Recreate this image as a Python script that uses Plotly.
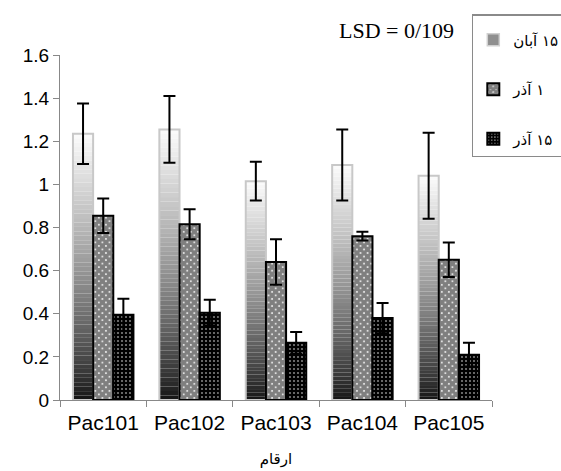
import plotly.graph_objects as go

categories = ["Pac101", "Pac102", "Pac103", "Pac104", "Pac105"]
series_names = ["\u202B۱۵ آبان\u202C", "\u202B۱ آذر\u202C", "\u202B۱۵ آذر\u202C"]
aban15 = [1.235, 1.255, 1.015, 1.09, 1.04]
aban15_err = [0.14, 0.155, 0.09, 0.165, 0.2]
azar1 = [0.855, 0.815, 0.64, 0.76, 0.65]
azar1_err = [0.08, 0.07, 0.105, 0.02, 0.08]
azar15 = [0.395, 0.405, 0.265, 0.38, 0.21]
azar15_err = [0.075, 0.06, 0.05, 0.07, 0.055]
y_ticks = [0, 0.2, 0.4, 0.6, 0.8, 1.0, 1.2, 1.4, 1.6]
y_tick_text = ["0", "0.2", "0.4", "0.6", "0.8", "1", "1.2", "1.4", "1.6"]

fig = go.Figure()

# gradient bars (white top -> black bottom) built from stacked slices
N = 60
for i in range(N):
    t = (i + 0.5) / N  # fraction from bottom
    L = int(round(18 + 234 * (t ** 0.8)))
    col = f"rgb({L},{L},{L})"
    fig.add_trace(go.Bar(
        x=categories,
        y=[v / N for v in aban15],
        base=[v * i / N for v in aban15],
        marker=dict(color=col, line=dict(width=0)),
        offsetgroup="s1", legendgroup="s1", showlegend=False,
        hoverinfo="skip",
    ))
# outline + error bars
fig.add_trace(go.Bar(
    x=categories, y=aban15, name=series_names[0],
    offsetgroup="s1", legendgroup="s1", showlegend=False,
    marker=dict(color="rgba(0,0,0,0)", line=dict(color="#c8c8c8", width=2)),
    error_y=dict(type="data", array=aban15_err, color="black", thickness=2, width=6),
))
# legend entry for gradient series
fig.add_trace(go.Bar(
    x=[None], y=[None], name=series_names[0], legendgroup="s1",
    marker=dict(color="#8f8f8f", line=dict(color="#d0d0d0", width=1.5)),
))

fig.add_trace(go.Bar(
    x=categories, y=azar1, name=series_names[1],
    offsetgroup="s2", legendgroup="s2",
    marker=dict(color="white", line=dict(color="black", width=2),
                pattern=dict(shape="x", fgcolor="black", bgcolor="white",
                             size=5, solidity=0.9, fillmode="overlay")),
    error_y=dict(type="data", array=azar1_err, color="black", thickness=2, width=6),
))
fig.add_trace(go.Bar(
    x=categories, y=azar15, name=series_names[2],
    offsetgroup="s3", legendgroup="s3",
    marker=dict(color="black", line=dict(color="black", width=2),
                pattern=dict(shape=".", fgcolor="white", bgcolor="black",
                             size=4, solidity=0.22, fillmode="overlay")),
    error_y=dict(type="data", array=azar15_err, color="black", thickness=2, width=6),
))

fig.add_annotation(
    text="LSD = 0/109", xref="paper", yref="paper", x=0.916, y=1.072,
    xanchor="right", yanchor="middle", showarrow=False,
    font=dict(family="Liberation Serif", size=22, color="black"),
)

fig.update_layout(
    width=561, height=471,
    margin=dict(l=60, r=69, t=55, b=71, autoexpand=False),
    paper_bgcolor="white", plot_bgcolor="white",
    barmode="group", bargap=0.3, bargroupgap=0,
    font=dict(family="Liberation Sans", color="black"),
    legend=dict(
        xref="container", yref="container", x=0.841, y=0.97,
        xanchor="left", yanchor="top",
        bordercolor="#8a8a8a", borderwidth=1.5, bgcolor="white",
        font=dict(family="DejaVu Sans", size=15, color="black"),
        traceorder="grouped", tracegroupgap=27,
        itemwidth=30,
        title=dict(text=" ", font=dict(size=6)),
    ),
    xaxis=dict(
        showline=True, linecolor="#888", linewidth=1.2,
        ticks="outside", tickson="boundaries", ticklen=6, tickcolor="#888",
        tickfont=dict(size=21, family="Liberation Sans"),
        ticklabelstandoff=4,
        showgrid=False,
        title=dict(text="ارقام", font=dict(family="DejaVu Sans", size=15), standoff=20),
    ),
    yaxis=dict(
        range=[0, 1.6], tickvals=y_ticks, ticktext=y_tick_text,
        showline=True, linecolor="#888", linewidth=1.2,
        ticks="outside", ticklen=6, tickcolor="#888",
        tickfont=dict(size=19, family="Liberation Sans"),
        showgrid=False, zeroline=False,
    ),
)

fig.write_html("out.html", config={"displayModeBar": False},
               post_script="document.body.style.margin='0';")
